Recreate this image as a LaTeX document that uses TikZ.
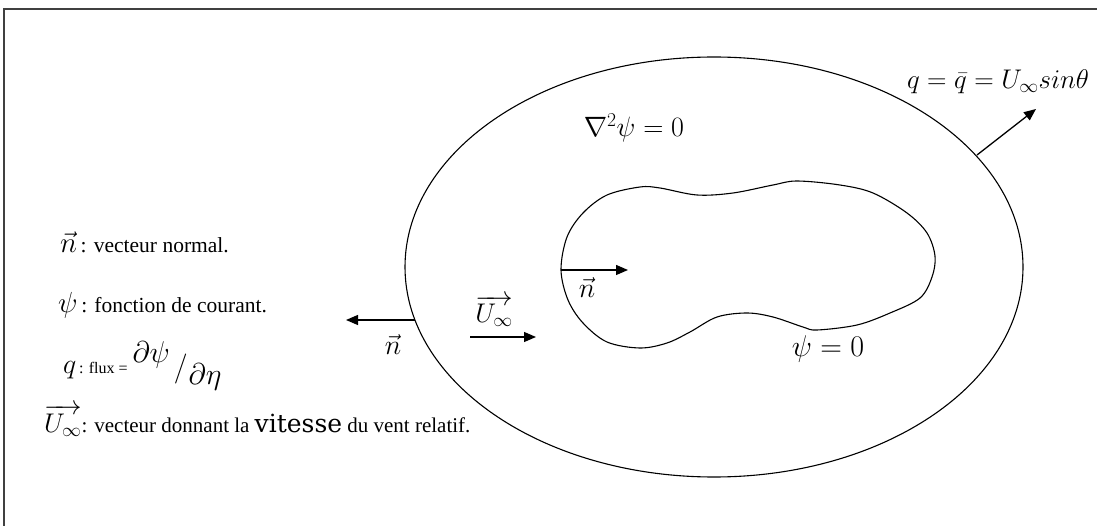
\RequirePackage{fix-cm}
\documentclass[tikz,border=0pt]{standalone}
\usepackage{fontspec}
\setmainfont{Liberation Serif}
\newfontfamily\vitfont{DejaVu Serif}
\usetikzlibrary{arrows.meta}
\newcommand\fsz[1]{\fontsize{#1}{#1}\selectfont}
\tikzset{
  frameline/.style={line width=2pt, draw=black!75},
  curve/.style={line width=1.1pt, draw=black},
  vecarrow/.style={line width=1.3pt, -{Triangle[length=12pt,width=10pt]}},
  mlabel/.style={inner sep=0pt, font=\fsz{28}},
  legend/.style={inner sep=0pt, anchor=base west},
}
\begin{document}
\begin{tikzpicture}[x=1pt,y=-1pt]
\useasboundingbox (0,0) rectangle (1097,526);
% frame (top and left only)
\draw[frameline] (4,526) -- (4,9) -- (1097,9);
% outer ellipse
\coordinate (oc) at (714,267);
\draw[curve] (oc) ellipse [x radius=309, y radius=210];
% inner body psi = 0
\draw[curve] plot[smooth cycle, tension=0.55] coordinates {
  (561,270) (567,237) (583,213) (607,195) (640,187) (660,188) (697,195)
  (733,193) (773,185) (797,181) (840,185) (873,193) (907,213) (927,233)
  (935,256) (932,277) (920,298) (890,313) (857,325) (817,330) (803,327)
  (773,317) (747,313) (717,317) (690,332) (667,343) (640,348) (607,342)
  (583,323) (568,300)};
% arrows
\coordinate (innerstart) at (561,270);
\coordinate (innerend) at (628,270);
\draw[vecarrow] (innerstart) -- (innerend);
\coordinate (leftstart) at (415,320);
\coordinate (leftend) at (346,320);
\draw[vecarrow] (leftstart) -- (leftend);
\coordinate (ustart) at (470,337);
\coordinate (uend) at (536,337);
\draw[vecarrow] (ustart) -- (uend);
\coordinate (qstart) at (977,155);
\coordinate (qend) at (1036,109);
\draw[vecarrow] (qstart) -- (qend);
% labels in the figure
\node[mlabel] (nin) at (587,288) {$\vec{n}$};
\node[mlabel] (nout) at (393,345) {$\vec{n}$};
\node[mlabel, font=\fsz{27}] (uinf) at (494,311) {$\overrightarrow{U_\infty}$};
\node[mlabel] (lap) at (634,128) {$\nabla^2\psi = 0$};
\node[mlabel, font=\fsz{30}] (psi0) at (828,349) {$\psi = 0$};
\node[mlabel, font=\fsz{27}] (qlab) at (998,82) {$q = \bar{q} = U_\infty sin\theta$};
% legend
\node[legend] (l1) at (60,253) {\fsz{29}$\vec{n}$\fsz{21.5}\,: vecteur normal.};
\node[legend] (l2) at (58,313) {\fsz{29}$\psi$\fsz{21.5}\,: fonction de courant.};
\node[legend] (l3) at (63,373) {\fsz{28}$q$\fsz{16}\,: flux =\hspace{5pt}\fsz{30}\raisebox{10pt}{$\partial\psi$}\hspace{4pt}\raisebox{-3pt}{$/$}\hspace{1pt}\raisebox{-12pt}{$\partial\eta$}};
\node[legend] (l4) at (44,432) {\fsz{27}$\overrightarrow{U_\infty}$\fsz{21}: vecteur donnant la {\vitfont\fsz{25}vitesse} du vent relatif.};
\end{tikzpicture}
\end{document}
